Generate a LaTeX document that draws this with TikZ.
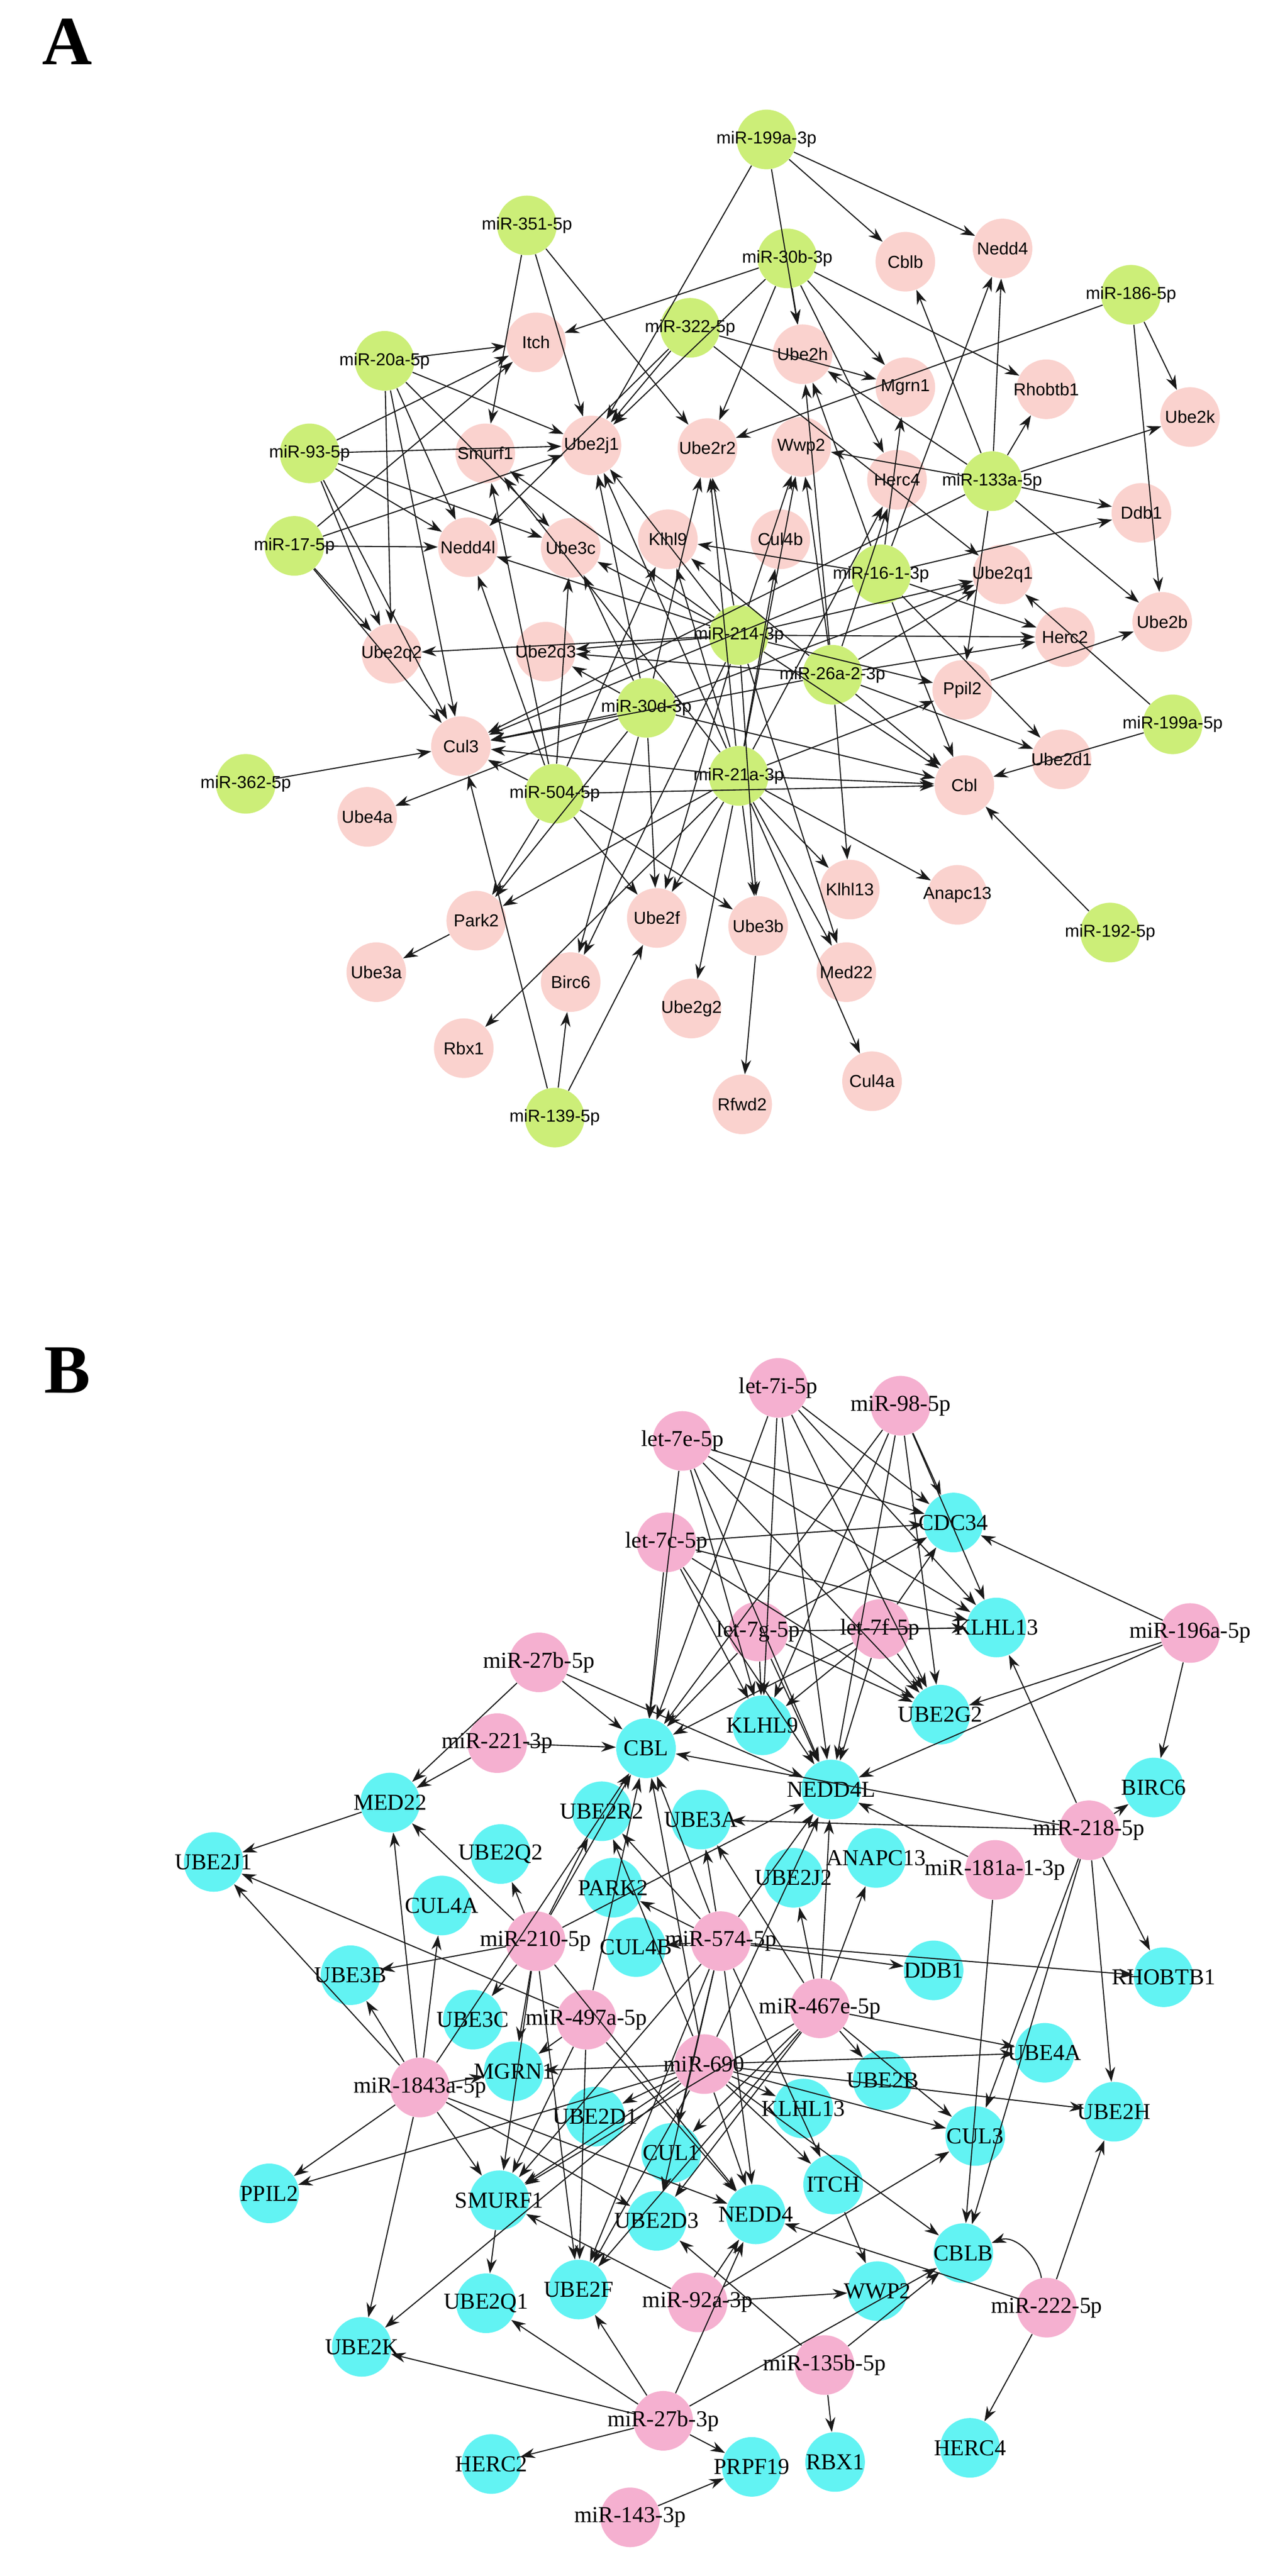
\documentclass[tikz,border=0pt]{standalone}
\usepackage{fontspec}
\setmainfont{Liberation Serif}
\newfontfamily\arialf{Liberation Sans}
\usetikzlibrary{arrows.meta}
\definecolor{agreen}{HTML}{CCEE78}
\definecolor{apink}{HTML}{FAD2CE}
\definecolor{bpink}{HTML}{F5B0D0}
\definecolor{bcyan}{HTML}{62F3F3}
\tikzset{
 dot/.style={circle,draw=none,minimum size=1.15cm,inner sep=0pt},
 atext/.style={font=\arialf\fontsize{9.5}{10}\selectfont,inner sep=0pt},
 btext/.style={font=\fontsize{12.5}{13}\selectfont,inner sep=0pt},
 edge/.style={draw=black!90,line width=0.6pt,-{Stealth[length=8pt,width=5.5pt]}},
 panel/.style={font=\bfseries\fontsize{38}{40}\selectfont,inner sep=0pt}
}
\begin{document}
\begin{tikzpicture}
\useasboundingbox (0,0) rectangle (24.37,-49.72);
\node[panel] at (1.3,-0.8) {A};
\node[panel] at (1.3,-26.45) {B};
% ---------------- Panel A
\begin{scope}[shift={(3,-2.5)},x=0.01339cm,y=-0.01276cm]
\foreach \n/\x/\y in {miR-199a-3p/880/15,miR-351-5p/535/145,miR-30b-3p/910/195,miR-186-5p/1405/250,miR-322-5p/770/300,miR-20a-5p/330/350,miR-93-5p/222/490,miR-133a-5p/1205/532,miR-17-5p/200/630,miR-16-1-3p/1045/673,miR-214-3p/840/765,miR-26a-2-3p/975/825,miR-30d-3p/707/875,miR-199a-5p/1465/900,miR-21a-3p/840/978,miR-362-5p/130/990,miR-504-5p/575/1005,miR-192-5p/1375/1215,miR-139-5p/575/1495}
 {\node[dot,fill=agreen] (\n) at (\x,\y) {}; \node[atext] at (\n) {\n};}
\foreach \n/\x/\y in {Cblb/1080/200,Nedd4/1220/180,Itch/548/322,Ube2h/932/340,Mgrn1/1080/390,Rhobtb1/1283/393,Ube2k/1490/435,Smurf1/475/490,Ube2j1/628/478,Ube2r2/795/482,Wwp2/930/480,Herc4/1068/530,Ddb1/1420/580,Nedd4l/450/632,Ube3c/598/633,Klhl9/738/620,Cul4b/900/620,Ube2q1/1220/673,Ube2b/1450/745,Herc2/1310/768,Ube2q2/340/793,Ube2d3/562/790,Ppil2/1162/848,Cul3/440/933,Ube2d1/1305/953,Cbl/1165/992,Ube4a/305/1040,Klhl13/1000/1150,Anapc13/1155/1158,Park2/462/1197,Ube2f/722/1193,Ube3b/868/1205,Ube3a/318/1275,Med22/995/1275,Birc6/598/1290,Ube2g2/772/1330,Rbx1/444/1390,Cul4a/1032/1440,Rfwd2/845/1475}
 {\node[dot,fill=apink] (\n) at (\x,\y) {}; \node[atext] at (\n) {\n};}
\end{scope}
% ---------------- Panel B
\begin{scope}[shift={(3,-26)},x=0.012755cm,y=-0.00765cm]
\foreach \n/\x/\y in {let-7i-5p/942/103,miR-98-5p/1127/148,let-7e-5p/797/237,let-7c-5p/773/493,let-7g-5p/912/718,let-7f-5p/1096/712,miR-196a-5p/1565/722,miR-27b-5p/580/796,miR-221-3p/517/1000,miR-218-5p/1412/1220,miR-181a-1-3p/1270/1320,miR-210-5p/575/1500,miR-574-5p/855/1500}
 {\node[dot,fill=bpink] (\n) at (\x,\y) {}; \node[btext] at (\n) {\n};}
\foreach \n/\x/\y in {CDC34/1207/443,KLHL13/1272/708,UBE2G2/1187/928,KLHL9/918/955,CBL/742/1013,NEDD4L/1022/1117,BIRC6/1510/1112,MED22/355/1150,UBE2R2/675/1172,UBE3A/825/1193,UBE2J1/88/1300,UBE2Q2/522/1280,ANAPC13/1090/1290,PARK2/692/1365,UBE2J2/965/1340,CUL4A/433/1410,CUL4B/727/1515}
 {\node[dot,fill=bcyan] (\n) at (\x,\y) {}; \node[btext] at (\n) {\n};}
\end{scope}
\begin{scope}[shift={(3,-37.5)},x=0.012755cm,y=-0.00779cm]
\foreach \n/\x/\y in {miR-497a-5p/652/190,miR-467e-5p/1005/162,miR-690/830/300,miR-1843a-5p/400/358,miR-92a-3p/820/890,miR-222-5p/1348/903,miR-135b-5p/1012/1045,miR-27b-3p/768/1183,miR-143-3p/718/1422}
 {\node[dot,fill=bpink] (\n) at (\x,\y) {}; \node[btext] at (\n) {\n};}
\foreach \n/\x/\y in {DDB1/1177/68,RHOBTB1/1525/85,UBE3B/295/80,UBE3C/480/190,UBE4A/1345/272,MGRN1/542/318,UBE2B/1100/340,UBE2H/1450/418,UBE2D1/665/430,CUL3/1240/478,CUL1/780/520,PPIL2/172/620,ITCH/1025/598,SMURF1/520/637,NEDD4/908/672,UBE2D3/758/688,CBLB/1222/768,UBE2Q1/500/892,UBE2F/640/858,WWP2/1092/862,UBE2K/312/1000,HERC2/508/1290,PRPF19/902/1297,RBX1/1028/1285,HERC4/1232/1250}
 {\node[dot,fill=bcyan] (\n) at (\x,\y) {}; \node[btext] at (\n) {\n};}
\node[dot,fill=bcyan] (KLHL13x) at (980,410) {}; \node[btext] at (KLHL13x) {KLHL13};
\end{scope}
% ---------------- edges A
\foreach \s/\t in {miR-199a-3p/Nedd4,miR-199a-3p/Cblb,miR-199a-3p/Ube2h,miR-199a-3p/Ube2j1,
miR-351-5p/Ube2j1,miR-351-5p/Ube2r2,miR-351-5p/Smurf1,
miR-30b-3p/Itch,miR-30b-3p/Ube2h,miR-30b-3p/Mgrn1,miR-30b-3p/Rhobtb1,miR-30b-3p/Ube2j1,miR-30b-3p/Ube2r2,miR-30b-3p/Herc4,
miR-322-5p/Ube2j1,miR-322-5p/Mgrn1,miR-322-5p/Nedd4l,miR-322-5p/Ube2q1,
miR-186-5p/Ube2k,miR-186-5p/Ube2b,miR-186-5p/Ube2r2,
miR-20a-5p/Itch,miR-20a-5p/Ube2j1,miR-20a-5p/Nedd4l,miR-20a-5p/Ube3c,miR-20a-5p/Ube2q2,miR-20a-5p/Cul3,
miR-93-5p/Itch,miR-93-5p/Ube2j1,miR-93-5p/Nedd4l,miR-93-5p/Ube3c,miR-93-5p/Ube2q2,miR-93-5p/Cul3,
miR-17-5p/Nedd4l,miR-17-5p/Itch,miR-17-5p/Ube2j1,miR-17-5p/Ube2q2,miR-17-5p/Cul3,
miR-133a-5p/Ube2k,miR-133a-5p/Ddb1,miR-133a-5p/Rhobtb1,miR-133a-5p/Nedd4,miR-133a-5p/Cblb,miR-133a-5p/Ube2h,miR-133a-5p/Wwp2,miR-133a-5p/Ube2b,miR-133a-5p/Ppil2,miR-133a-5p/Cul3,
miR-16-1-3p/Ddb1,miR-16-1-3p/Herc2,miR-16-1-3p/Klhl9,miR-16-1-3p/Mgrn1,miR-16-1-3p/Ube2h,miR-16-1-3p/Cul3,miR-16-1-3p/Cbl,miR-16-1-3p/Nedd4,miR-16-1-3p/Ube2d1,
miR-214-3p/Ube2j1,miR-214-3p/Smurf1,miR-214-3p/Ube2r2,miR-214-3p/Wwp2,miR-214-3p/Nedd4l,miR-214-3p/Ube3c,miR-214-3p/Ube2q2,miR-214-3p/Ube2d3,miR-214-3p/Ppil2,miR-214-3p/Ube2q1,miR-214-3p/Herc2,miR-214-3p/Cbl,miR-214-3p/Ube3b,miR-214-3p/Med22,miR-214-3p/Birc6,miR-214-3p/Ube2f,
miR-26a-2-3p/Herc2,miR-26a-2-3p/Cbl,miR-26a-2-3p/Ube2q1,miR-26a-2-3p/Herc4,miR-26a-2-3p/Wwp2,miR-26a-2-3p/Ube2h,miR-26a-2-3p/Cul3,miR-26a-2-3p/Klhl13,miR-26a-2-3p/Ube2d3,miR-26a-2-3p/Ube2d1,miR-26a-2-3p/Klhl9,
miR-30d-3p/Ube2j1,miR-30d-3p/Ube2r2,miR-30d-3p/Ube3c,miR-30d-3p/Cul3,miR-30d-3p/Ube4a,miR-30d-3p/Park2,miR-30d-3p/Ube2f,miR-30d-3p/Cbl,miR-30d-3p/Birc6,miR-30d-3p/Ube2d3,miR-30d-3p/Ube2q1,
miR-21a-3p/Klhl9,miR-21a-3p/Cul4b,miR-21a-3p/Wwp2,miR-21a-3p/Ube2r2,miR-21a-3p/Herc4,miR-21a-3p/Ppil2,miR-21a-3p/Cbl,miR-21a-3p/Anapc13,miR-21a-3p/Klhl13,miR-21a-3p/Med22,miR-21a-3p/Cul4a,miR-21a-3p/Ube3b,miR-21a-3p/Ube2g2,miR-21a-3p/Ube2f,miR-21a-3p/Park2,miR-21a-3p/Cul3,miR-21a-3p/Smurf1,miR-21a-3p/Ube2j1,
miR-504-5p/Nedd4l,miR-504-5p/Cul3,miR-504-5p/Park2,miR-504-5p/Ube2f,miR-504-5p/Klhl9,miR-504-5p/Cbl,miR-504-5p/Ube3b,miR-504-5p/Smurf1,miR-504-5p/Ube3c,
miR-362-5p/Cul3,miR-199a-5p/Cbl,miR-199a-5p/Ube2q1,miR-192-5p/Cbl,
miR-139-5p/Birc6,miR-139-5p/Ube2f,miR-139-5p/Cul3,Park2/Ube3a,miR-21a-3p/Rbx1,Ube3b/Rfwd2,Ppil2/Ube2b}
 \draw[edge] (\s) -- (\t);
% ---------------- edges B
\foreach \s in {let-7i-5p,miR-98-5p,let-7e-5p,let-7c-5p,let-7g-5p,let-7f-5p}
 \foreach \t in {CDC34,KLHL13,UBE2G2,NEDD4L,KLHL9,CBL}
  \draw[edge] (\s) -- (\t);
\foreach \s/\t in {miR-196a-5p/CDC34,miR-196a-5p/BIRC6,miR-196a-5p/UBE2G2,miR-196a-5p/NEDD4L,
miR-27b-5p/CBL,miR-27b-5p/MED22,miR-27b-5p/NEDD4L,miR-221-3p/CBL,miR-221-3p/MED22,
miR-218-5p/UBE3A,miR-218-5p/KLHL13,miR-218-5p/BIRC6,miR-218-5p/CBL,miR-218-5p/RHOBTB1,miR-218-5p/UBE2H,miR-218-5p/CUL3,miR-218-5p/CBLB,
miR-181a-1-3p/NEDD4L,miR-181a-1-3p/CBLB,MED22/UBE2J1,
miR-210-5p/CBL,miR-210-5p/UBE2R2,miR-210-5p/UBE2Q2,miR-210-5p/MED22,miR-210-5p/UBE3B,miR-210-5p/UBE3C,miR-210-5p/MGRN1,miR-210-5p/SMURF1,miR-210-5p/NEDD4L,miR-210-5p/UBE2F,miR-210-5p/NEDD4,
miR-574-5p/CBL,miR-574-5p/UBE2R2,miR-574-5p/NEDD4L,miR-574-5p/UBE3A,miR-574-5p/PARK2,miR-574-5p/CUL4B,miR-574-5p/DDB1,miR-574-5p/RHOBTB1,miR-574-5p/SMURF1,miR-574-5p/NEDD4,miR-574-5p/UBE2D3,miR-574-5p/ITCH,miR-574-5p/CUL1,miR-574-5p/UBE2F,
miR-497a-5p/UBE2J1,miR-497a-5p/MGRN1,miR-497a-5p/SMURF1,miR-497a-5p/NEDD4,miR-497a-5p/UBE2F,miR-497a-5p/CBL,
miR-467e-5p/NEDD4L,miR-467e-5p/UBE3A,miR-467e-5p/UBE2J2,miR-467e-5p/ANAPC13,miR-467e-5p/UBE4A,miR-467e-5p/UBE2B,miR-467e-5p/CUL3,miR-467e-5p/UBE2D3,miR-467e-5p/CUL1,miR-467e-5p/SMURF1,miR-467e-5p/UBE2F,
miR-690/CBL,miR-690/NEDD4L,miR-690/UBE2R2,miR-690/UBE4A,miR-690/UBE2H,miR-690/CUL3,miR-690/MGRN1,miR-690/UBE2D1,miR-690/PPIL2,miR-690/SMURF1,miR-690/NEDD4,miR-690/KLHL13x,miR-690/ITCH,miR-690/CBLB,miR-690/UBE2F,miR-690/UBE2K,
miR-1843a-5p/UBE2J1,miR-1843a-5p/MED22,miR-1843a-5p/UBE3B,miR-1843a-5p/PPIL2,miR-1843a-5p/UBE2K,miR-1843a-5p/SMURF1,miR-1843a-5p/NEDD4,miR-1843a-5p/UBE2D3,miR-1843a-5p/MGRN1,miR-1843a-5p/CBL,miR-1843a-5p/CUL4A,
miR-92a-3p/WWP2,miR-92a-3p/SMURF1,miR-92a-3p/NEDD4,miR-92a-3p/CUL3,
miR-135b-5p/RBX1,miR-135b-5p/UBE2D3,miR-135b-5p/CBLB,
miR-222-5p/HERC4,miR-222-5p/UBE2H,miR-222-5p/NEDD4,
miR-27b-3p/HERC2,miR-27b-3p/PRPF19,miR-27b-3p/UBE2K,miR-27b-3p/UBE2Q1,miR-27b-3p/UBE2F,miR-27b-3p/NEDD4,miR-27b-3p/CBLB,
miR-143-3p/PRPF19,ITCH/WWP2,SMURF1/UBE2Q1,CUL1/UBE2D3}
 \draw[edge] (\s) -- (\t);
\draw[edge] (miR-222-5p) to[out=100,in=20] (CBLB);
\end{tikzpicture}
\end{document}
